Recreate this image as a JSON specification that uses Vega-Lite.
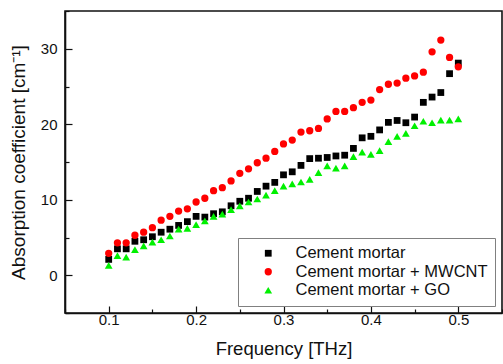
{
  "$schema": "https://vega.github.io/schema/vega-lite/v6.json",
  "width": 437,
  "height": 302,
  "autosize": {"type": "none"},
  "padding": {"left": 65, "top": 11, "right": 1, "bottom": 51},
  "background": "white",
  "config": {
    "view": {"stroke": "#111", "strokeWidth": 1.6},
    "font": "Liberation Sans",
    "axis": {
      "labelFont": "Liberation Sans",
      "titleFont": "Liberation Sans",
      "labelColor": "#111",
      "titleColor": "#111",
      "titleFontWeight": "normal",
      "labelFontSize": 15,
      "titleFontSize": 18.5,
      "domainColor": "#111",
      "domainWidth": 1.6,
      "tickColor": "#111",
      "tickWidth": 1.2,
      "grid": false
    },
    "legend": {
      "labelFont": "Liberation Sans",
      "labelFontSize": 16.5,
      "labelColor": "#111",
      "labelLimit": 400
    }
  },
  "data": {
    "values": [
      {"f": 0.10, "a": 2.1, "s": "Cement mortar"},
      {"f": 0.11, "a": 3.5, "s": "Cement mortar"},
      {"f": 0.12, "a": 3.5, "s": "Cement mortar"},
      {"f": 0.13, "a": 4.5, "s": "Cement mortar"},
      {"f": 0.14, "a": 4.7, "s": "Cement mortar"},
      {"f": 0.15, "a": 5.1, "s": "Cement mortar"},
      {"f": 0.16, "a": 5.7, "s": "Cement mortar"},
      {"f": 0.17, "a": 6.1, "s": "Cement mortar"},
      {"f": 0.18, "a": 6.6, "s": "Cement mortar"},
      {"f": 0.19, "a": 7.1, "s": "Cement mortar"},
      {"f": 0.20, "a": 7.8, "s": "Cement mortar"},
      {"f": 0.21, "a": 7.7, "s": "Cement mortar"},
      {"f": 0.22, "a": 8.15, "s": "Cement mortar"},
      {"f": 0.23, "a": 8.4, "s": "Cement mortar"},
      {"f": 0.24, "a": 9.2, "s": "Cement mortar"},
      {"f": 0.25, "a": 9.8, "s": "Cement mortar"},
      {"f": 0.26, "a": 10.2, "s": "Cement mortar"},
      {"f": 0.27, "a": 11.1, "s": "Cement mortar"},
      {"f": 0.28, "a": 11.8, "s": "Cement mortar"},
      {"f": 0.29, "a": 12.3, "s": "Cement mortar"},
      {"f": 0.30, "a": 13.3, "s": "Cement mortar"},
      {"f": 0.31, "a": 13.7, "s": "Cement mortar"},
      {"f": 0.32, "a": 14.55, "s": "Cement mortar"},
      {"f": 0.33, "a": 15.45, "s": "Cement mortar"},
      {"f": 0.34, "a": 15.5, "s": "Cement mortar"},
      {"f": 0.35, "a": 15.6, "s": "Cement mortar"},
      {"f": 0.36, "a": 15.8, "s": "Cement mortar"},
      {"f": 0.37, "a": 15.9, "s": "Cement mortar"},
      {"f": 0.38, "a": 16.8, "s": "Cement mortar"},
      {"f": 0.39, "a": 18.2, "s": "Cement mortar"},
      {"f": 0.40, "a": 18.4, "s": "Cement mortar"},
      {"f": 0.41, "a": 19.25, "s": "Cement mortar"},
      {"f": 0.42, "a": 20.25, "s": "Cement mortar"},
      {"f": 0.43, "a": 20.5, "s": "Cement mortar"},
      {"f": 0.44, "a": 20.2, "s": "Cement mortar"},
      {"f": 0.45, "a": 20.95, "s": "Cement mortar"},
      {"f": 0.46, "a": 22.9, "s": "Cement mortar"},
      {"f": 0.47, "a": 23.6, "s": "Cement mortar"},
      {"f": 0.48, "a": 24.2, "s": "Cement mortar"},
      {"f": 0.49, "a": 26.7, "s": "Cement mortar"},
      {"f": 0.50, "a": 28.1, "s": "Cement mortar"},
      {"f": 0.10, "a": 2.9, "s": "Cement mortar + MWCNT"},
      {"f": 0.11, "a": 4.3, "s": "Cement mortar + MWCNT"},
      {"f": 0.12, "a": 4.3, "s": "Cement mortar + MWCNT"},
      {"f": 0.13, "a": 5.3, "s": "Cement mortar + MWCNT"},
      {"f": 0.14, "a": 5.7, "s": "Cement mortar + MWCNT"},
      {"f": 0.15, "a": 6.3, "s": "Cement mortar + MWCNT"},
      {"f": 0.16, "a": 7.3, "s": "Cement mortar + MWCNT"},
      {"f": 0.17, "a": 7.8, "s": "Cement mortar + MWCNT"},
      {"f": 0.18, "a": 8.5, "s": "Cement mortar + MWCNT"},
      {"f": 0.19, "a": 8.8, "s": "Cement mortar + MWCNT"},
      {"f": 0.20, "a": 9.7, "s": "Cement mortar + MWCNT"},
      {"f": 0.21, "a": 10.2, "s": "Cement mortar + MWCNT"},
      {"f": 0.22, "a": 11.2, "s": "Cement mortar + MWCNT"},
      {"f": 0.23, "a": 11.6, "s": "Cement mortar + MWCNT"},
      {"f": 0.24, "a": 12.5, "s": "Cement mortar + MWCNT"},
      {"f": 0.25, "a": 13.5, "s": "Cement mortar + MWCNT"},
      {"f": 0.26, "a": 14.1, "s": "Cement mortar + MWCNT"},
      {"f": 0.27, "a": 14.9, "s": "Cement mortar + MWCNT"},
      {"f": 0.28, "a": 15.5, "s": "Cement mortar + MWCNT"},
      {"f": 0.29, "a": 16.4, "s": "Cement mortar + MWCNT"},
      {"f": 0.30, "a": 17.4, "s": "Cement mortar + MWCNT"},
      {"f": 0.31, "a": 17.9, "s": "Cement mortar + MWCNT"},
      {"f": 0.32, "a": 18.96, "s": "Cement mortar + MWCNT"},
      {"f": 0.33, "a": 19.14, "s": "Cement mortar + MWCNT"},
      {"f": 0.34, "a": 19.45, "s": "Cement mortar + MWCNT"},
      {"f": 0.35, "a": 20.7, "s": "Cement mortar + MWCNT"},
      {"f": 0.36, "a": 21.7, "s": "Cement mortar + MWCNT"},
      {"f": 0.37, "a": 21.7, "s": "Cement mortar + MWCNT"},
      {"f": 0.38, "a": 22.2, "s": "Cement mortar + MWCNT"},
      {"f": 0.39, "a": 22.9, "s": "Cement mortar + MWCNT"},
      {"f": 0.40, "a": 23.2, "s": "Cement mortar + MWCNT"},
      {"f": 0.41, "a": 24.6, "s": "Cement mortar + MWCNT"},
      {"f": 0.42, "a": 25.3, "s": "Cement mortar + MWCNT"},
      {"f": 0.43, "a": 25.45, "s": "Cement mortar + MWCNT"},
      {"f": 0.44, "a": 26.1, "s": "Cement mortar + MWCNT"},
      {"f": 0.45, "a": 26.4, "s": "Cement mortar + MWCNT"},
      {"f": 0.46, "a": 26.9, "s": "Cement mortar + MWCNT"},
      {"f": 0.47, "a": 29.6, "s": "Cement mortar + MWCNT"},
      {"f": 0.48, "a": 31.15, "s": "Cement mortar + MWCNT"},
      {"f": 0.49, "a": 28.85, "s": "Cement mortar + MWCNT"},
      {"f": 0.50, "a": 27.6, "s": "Cement mortar + MWCNT"},
      {"f": 0.10, "a": 1.3, "s": "Cement mortar + GO"},
      {"f": 0.11, "a": 2.6, "s": "Cement mortar + GO"},
      {"f": 0.12, "a": 2.4, "s": "Cement mortar + GO"},
      {"f": 0.13, "a": 3.4, "s": "Cement mortar + GO"},
      {"f": 0.14, "a": 3.9, "s": "Cement mortar + GO"},
      {"f": 0.15, "a": 4.4, "s": "Cement mortar + GO"},
      {"f": 0.16, "a": 4.7, "s": "Cement mortar + GO"},
      {"f": 0.17, "a": 5.2, "s": "Cement mortar + GO"},
      {"f": 0.18, "a": 6.1, "s": "Cement mortar + GO"},
      {"f": 0.19, "a": 6.2, "s": "Cement mortar + GO"},
      {"f": 0.20, "a": 6.7, "s": "Cement mortar + GO"},
      {"f": 0.21, "a": 7.2, "s": "Cement mortar + GO"},
      {"f": 0.22, "a": 7.8, "s": "Cement mortar + GO"},
      {"f": 0.23, "a": 8.1, "s": "Cement mortar + GO"},
      {"f": 0.24, "a": 8.7, "s": "Cement mortar + GO"},
      {"f": 0.25, "a": 9.2, "s": "Cement mortar + GO"},
      {"f": 0.26, "a": 9.7, "s": "Cement mortar + GO"},
      {"f": 0.27, "a": 10.1, "s": "Cement mortar + GO"},
      {"f": 0.28, "a": 10.6, "s": "Cement mortar + GO"},
      {"f": 0.29, "a": 11.2, "s": "Cement mortar + GO"},
      {"f": 0.30, "a": 11.8, "s": "Cement mortar + GO"},
      {"f": 0.31, "a": 12.1, "s": "Cement mortar + GO"},
      {"f": 0.32, "a": 12.35, "s": "Cement mortar + GO"},
      {"f": 0.33, "a": 12.7, "s": "Cement mortar + GO"},
      {"f": 0.34, "a": 13.6, "s": "Cement mortar + GO"},
      {"f": 0.35, "a": 14.5, "s": "Cement mortar + GO"},
      {"f": 0.36, "a": 14.2, "s": "Cement mortar + GO"},
      {"f": 0.37, "a": 14.5, "s": "Cement mortar + GO"},
      {"f": 0.38, "a": 15.7, "s": "Cement mortar + GO"},
      {"f": 0.39, "a": 16.3, "s": "Cement mortar + GO"},
      {"f": 0.40, "a": 16.0, "s": "Cement mortar + GO"},
      {"f": 0.41, "a": 16.5, "s": "Cement mortar + GO"},
      {"f": 0.42, "a": 17.7, "s": "Cement mortar + GO"},
      {"f": 0.43, "a": 18.4, "s": "Cement mortar + GO"},
      {"f": 0.44, "a": 18.8, "s": "Cement mortar + GO"},
      {"f": 0.45, "a": 19.8, "s": "Cement mortar + GO"},
      {"f": 0.46, "a": 20.4, "s": "Cement mortar + GO"},
      {"f": 0.47, "a": 20.2, "s": "Cement mortar + GO"},
      {"f": 0.48, "a": 20.55, "s": "Cement mortar + GO"},
      {"f": 0.49, "a": 20.55, "s": "Cement mortar + GO"},
      {"f": 0.50, "a": 20.7, "s": "Cement mortar + GO"}
    ]
  },
  "mark": {"type": "point", "filled": true, "opacity": 1},
  "encoding": {
    "x": {
      "field": "f",
      "type": "quantitative",
      "scale": {"domain": [0.05, 0.55], "nice": false, "zero": false},
      "axis": {
        "title": "Frequency [THz]",
        "values": [0.05, 0.1, 0.15, 0.2, 0.25, 0.3, 0.35, 0.4, 0.45, 0.5, 0.55],
        "format": ".1f",
        "labelExpr": "round(datum.value * 20) % 2 === 0 && datum.value > 0.07 && datum.value < 0.53 ? datum.label : ''",
        "tickSize": {"condition": {"test": "round(datum.value * 20) % 2 === 0", "value": -7}, "value": -4},
        "labelPadding": 6,
        "titlePadding": 12
      }
    },
    "y": {
      "field": "a",
      "type": "quantitative",
      "scale": {"domain": [-5, 35], "nice": false, "zero": false},
      "axis": {
        "title": "Absorption coefficient [cm⁻¹]",
        "titleFontSize": 19,
        "values": [-5, 0, 5, 10, 15, 20, 25, 30, 35],
        "labelExpr": "datum.value % 10 === 0 ? datum.label : ''",
        "tickSize": {"condition": {"test": "datum.value % 10 === 0", "value": -7}, "value": -4},
        "labelPadding": 15,
        "titlePadding": 12
      }
    },
    "color": {
      "field": "s",
      "type": "nominal",
      "sort": ["Cement mortar", "Cement mortar + MWCNT", "Cement mortar + GO"],
      "scale": {
        "domain": ["Cement mortar", "Cement mortar + MWCNT", "Cement mortar + GO"],
        "range": ["#000000", "#ff0000", "#00f000"]
      },
      "legend": {
        "title": null,
        "orient": "bottom-right",
        "offset": 7,
        "strokeColor": "#808080",
        "fillColor": "white",
        "padding": 7,
        "symbolOffset": 15,
        "labelOffset": 19,
        "rowPadding": 1.5
      }
    },
    "shape": {
      "field": "s",
      "type": "nominal",
      "sort": ["Cement mortar", "Cement mortar + MWCNT", "Cement mortar + GO"],
      "scale": {
        "domain": ["Cement mortar", "Cement mortar + MWCNT", "Cement mortar + GO"],
        "range": ["square", "circle", "triangle-up"]
      }
    },
    "size": {
      "field": "s",
      "type": "nominal",
      "sort": ["Cement mortar", "Cement mortar + MWCNT", "Cement mortar + GO"],
      "scale": {
        "domain": ["Cement mortar", "Cement mortar + MWCNT", "Cement mortar + GO"],
        "range": [46, 60, 68]
      },
      "legend": null
    }
  }
}
